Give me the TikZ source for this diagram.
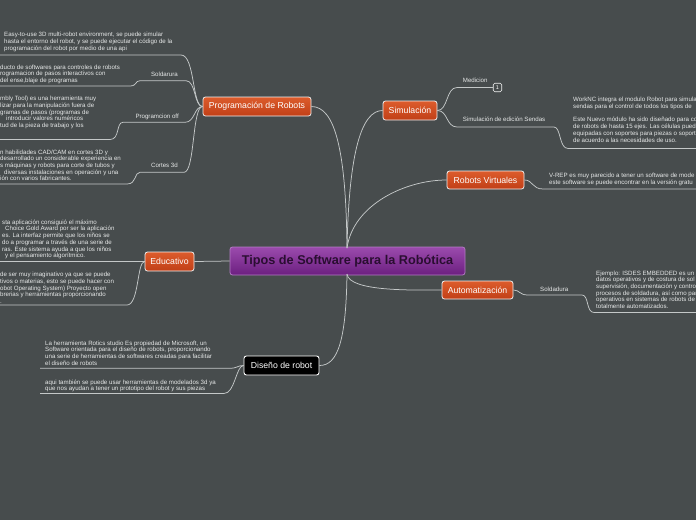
\documentclass[tikz,border=0pt]{standalone}
\usepackage{fontspec}
\setmainfont{Liberation Sans}
\definecolor{bg}{HTML}{474C4D}
\definecolor{lc}{HTML}{C4C8C8}
\definecolor{tc}{HTML}{E6E8E8}
\definecolor{orA}{HTML}{DC5C2C}
\definecolor{orB}{HTML}{C13F17}
\definecolor{puA}{HTML}{9B4BAD}
\definecolor{puB}{HTML}{6C1F80}
\definecolor{puD}{HTML}{B27AC2}
\definecolor{rootT}{HTML}{2A0E31}
\newcommand\smallf{\fontsize{6.15}{6.7}\selectfont}
\newcommand\mainf{\fontsize{8.7}{10}\selectfont}
\newcommand\rootf{\fontsize{12.7}{14}\selectfont\bfseries}
\tikzset{
  mainbox/.style={draw=white!88!gray, line width=0.8pt, rounded corners=2.5pt,
    top color=orA, bottom color=orB, text=white, font=\mainf, inner sep=0pt,
    minimum height=19pt},
  blackbox/.style={draw=white, line width=0.9pt, rounded corners=2.5pt,
    fill=black, text=white, font=\mainf, inner sep=0pt, minimum height=19pt},
  rootbox/.style={draw=puD, line width=0.8pt, rounded corners=2.5pt,
    top color=puA, bottom color=puB, text=rootT, font=\rootf, inner sep=0pt,
    minimum height=28pt, minimum width=235pt},
  conn/.style={draw=lc, line width=0.75pt},
  txt/.style={anchor=north west, align=left, inner sep=0pt, text=tc, font=\smallf},
  labw/.style={anchor=base west, inner sep=0pt, text=tc, font=\smallf},
  labe/.style={anchor=base east, inner sep=0pt, text=tc, font=\smallf},
  numbox/.style={draw=white!90!gray, line width=0.6pt, rounded corners=1.5pt,
    minimum width=8.5pt, minimum height=8.5pt, inner sep=0pt, text=white,
    font=\fontsize{5.5}{6}\selectfont},
}
\begin{document}
\begin{tikzpicture}[x=1pt,y=-1pt]
\fill[bg] (0,0) rectangle (696,520);
\useasboundingbox (0,0) rectangle (696,520);
\clip (0,0) rectangle (696,520);

% main nodes
\node[rootbox] (root) at (347.5,261) {Tipos de Software para la Robótica};
\node[mainbox, minimum width=108pt] (prog) at (257,106.5) {Programación de Robots};
\node[mainbox, minimum width=54pt] (sim) at (410,110.5) {Simulación};
\node[mainbox, minimum width=77pt, minimum height=18pt] (rv) at (485.5,180) {Robots Virtuales};
\node[mainbox, minimum width=49pt] (edu) at (169.5,261.5) {Educativo};
\node[mainbox, minimum width=71pt, minimum height=18pt] (auto) at (477.5,290) {Automatización};
\node[blackbox, minimum width=75pt] (dis) at (281.5,365.5) {Diseño de robot};
\node[numbox] (one) at (497.5,87.5) {1};

\coordinate (rt) at (347,248);
\coordinate (rb) at (347,274);

% root connectors
\draw[conn] (rt) .. controls (346,150) and (335,106.5) .. (prog.east);
\draw[conn] (rt) .. controls (349,150) and (362,110.5) .. (sim.west);
\draw[conn] (rt) .. controls (353,205) and (405,180) .. (rv.west);
\draw[conn] (rb) .. controls (349,292) and (415,290) .. (auto.west);
\draw[conn] (rb) .. controls (346,340) and (338,365.5) .. (dis.east);
\draw[conn] (root.west) -- (edu.east);

% Programacion de Robots sub-branches
\coordinate (pA) at (0,55);
\coordinate (pB) at (0,86);
\coordinate (pC) at (0,139.5);
\coordinate (pD) at (0,184);
\draw[conn] (prog.west) .. controls (192,106.5) and (195,55) .. (181,55) -- (pA);
\draw[conn] (prog.west) .. controls (194,106.5) and (196,80.7) .. (186,80.7) -- (140,80.7)
  .. controls (135,80.7) and (137,86) .. (130,86) -- (pB);
\draw[conn] (prog.west) .. controls (194,106.5) and (195,122.3) .. (185,122.3) -- (123,122.3)
  .. controls (116,122.3) and (120,139.5) .. (110,139.5) -- (pC);
\draw[conn] (prog.west) .. controls (192,106.5) and (195,172.3) .. (184,172.3) -- (140,172.3)
  .. controls (134,172.3) and (137,184) .. (127,184) -- (pD);

\node[txt] (tA) at (4,32.2) {Easy-to-use 3D multi-robot environment, se puede simular\\hasta el entorno del robot, y se puede ejecutar el código de la\\programación del robot por medio de una api};
\node[labe] (lB) at (178,76) {Soldarura};
\node[txt] (tB) at (0,64.5) {ducto de softwares para controles de robots\\rogramacion de pasos interactivos con\\del ense,blaje de programas};
\node[labe] (lC) at (179,118.3) {Programcion off};
\node[txt] (tC) at (0,96.2) {mbly Tool) es una herramienta muy\\lizar para la manipulación fuera de\\gramas de pasos (programas de\\\hspace*{6pt}introducir valores numéricos\\tud de la pieza de trabajo y los};
\node[labe] (lD) at (178,167.3) {Cortes 3d};
\node[txt] (tD) at (0,149.5) {n habilidades CAD/CAM en cortes 3D y\\desarrollado un considerable experiencia en\\s máquinas y robots para corte de tubos y\\\hspace*{4pt}diversas instalaciones en operación y una\\ión con varios fabricantes.};

% Educativo
\coordinate (eA) at (0,261.5);
\coordinate (eB) at (0,305);
\draw[conn] (edu.west) -- (eA);
\draw[conn] (edu.west) .. controls (137,261.5) and (139,305) .. (127,305) -- (eB);
\node[txt] (tE) at (2,219.5) {sta aplicación consiguió el máximo\\\hspace*{3pt}Choice Gold Award por ser la aplicación\\es. La interfaz permite que los niños se\\do a programar a través de una serie de\\ras. Este sistema ayuda a que los niños\\\hspace*{3pt}y el pensamiento algorítmico.};
\node[txt] (tF) at (0,272.2) {de ser muy imaginativo ya que se puede\\tivos o materias, esto se puede hacer con\\obot Operating System) Proyecto open\\brerias y herramientas proporcionando\\.};

% Diseno de robot
\coordinate (dA) at (40,368.3);
\coordinate (dB) at (40,393.5);
\draw[conn] (dis.west) .. controls (237,365.5) and (238,368.3) .. (229,368.3) -- (dA);
\draw[conn] (dis.west) .. controls (236,365.5) and (235,393.5) .. (224,393.5) -- (dB);
\node[txt] (tG) at (45,340.5) {La herramienta Rotics studio Es propiedad de Microsoft, un\\Software orientada para el diseño de robots, proporcionando\\una serie de herramientas de softwares creadas para facilitar\\el diseño de robots};
\node[txt] (tH) at (45,379.5) {aqui también se puede usar herramientas de modelados 3d ya\\que nos ayudan a tener un prototipo del robot y sus piezas};

% Simulacion
\coordinate (sB) at (696,148.5);
\draw[conn] (sim.east) .. controls (448,110.5) and (446,87.5) .. (457,87.5) -- (one.west);
\draw[conn] (sim.east) .. controls (448,110.5) and (446,127) .. (457,127) -- (554,127)
  .. controls (561,127) and (559,148.5) .. (568,148.5) -- (sB);
\node[labw] (lM) at (462.7,82.3) {Medicion};
\node[labw] (lS) at (462.7,121.6) {Simulación de edición Sendas};
\node[txt] (tI) at (573,97.2) {WorkNC integra el modulo Robot para simula\\sendas para el control de todos los tipos de\\[6.7pt]Este Nuevo módulo ha sido diseñado para co\\de robots de hasta 15 ejes. Las células pued\\equipadas con soportes para piezas o soport\\de acuerdo a las necesidades de uso.};

% Robots Virtuales
\coordinate (vB) at (696,189);
\draw[conn] (rv.east) .. controls (533,180) and (532,189) .. (543,189) -- (vB);
\node[txt] (tJ) at (549,172.9) {V-REP es muy parecido a tener un software de mode\\este software se puede encontrar en la versión gratu};

% Automatizacion
\coordinate (aB) at (696,312.5);
\draw[conn] (auto.east) .. controls (520,290) and (519,295) .. (528,295) -- (582,295)
  .. controls (589,295) and (586,312.5) .. (594,312.5) -- (aB);
\node[labw] (lA) at (540,291.6) {Soldadura};
\node[txt] (tK) at (596,270.5) {Ejemplo: ISDES EMBEDDED es un s\\datos operativos y de costura de sol\\supervisión, documentación y contro\\procesos de soldadura, así como par\\operativos en sistemas de robots de\\totalmente automatizados.};
\end{tikzpicture}
\end{document}
